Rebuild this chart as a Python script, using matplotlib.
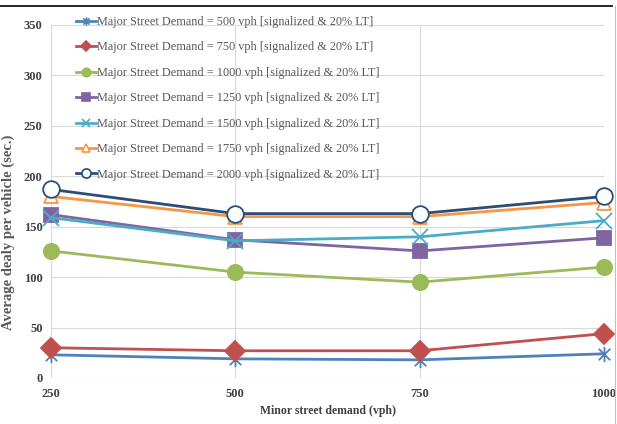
import numpy as np
import matplotlib

matplotlib.use("Agg")
import matplotlib.pyplot as plt
from matplotlib.path import Path
from matplotlib.lines import Line2D

# ── Data ─────────────────────────────────────────────────────────────────────

minor_demand = [250, 500, 750, 1000]
major_demand = [500, 750, 1000, 1250, 1500, 1750, 2000]

delay_500 = [23, 19, 18, 24]
delay_750 = [30, 27, 27, 44]
delay_1000 = [126, 105, 95, 110]
delay_1250 = [162, 137, 126, 139]
delay_1500 = [159, 136, 140, 156]
delay_1750 = [180, 160, 160, 174]
delay_2000 = [187, 163, 163, 180]

# ── Style ────────────────────────────────────────────────────────────────────

# Excel-style asterisk: vertical stroke plus two diagonals
star = Path(
    [(0, -1), (0, 1), (-0.75, -0.75), (0.75, 0.75), (-0.75, 0.75), (0.75, -0.75)],
    [Path.MOVETO, Path.LINETO] * 3,
)

series = [
    (delay_500, "#4F81BD", star, "#4F81BD"),
    (delay_750, "#C0504D", "D", "#C0504D"),
    (delay_1000, "#9BBB59", "o", "#9BBB59"),
    (delay_1250, "#8064A2", "s", "#8064A2"),
    (delay_1500, "#4BACC6", "x", "#4BACC6"),
    (delay_1750, "#F79646", "^", "white"),
    (delay_2000, "#2C4D75", "o", "white"),
]
marker_sizes = [11, 10, 11, 10, 11, 10, 12]

serif = "Liberation Serif"
text_col = "#595959"

fig = plt.figure(figsize=(6.17, 4.24), dpi=100)
ax = fig.add_axes([51 / 617, 46 / 424, 553 / 617, 353 / 424])

handles = []
for (vals, col, mk, face), ms, major in zip(series, marker_sizes, major_demand):
    ax.plot(
        minor_demand, vals, color=col, lw=2, marker=mk, markersize=ms,
        markerfacecolor=face, markeredgecolor=col, markeredgewidth=1.3,
        clip_on=False, zorder=3,
    )
    handles.append(
        Line2D([], [], color=col, lw=2, marker=mk, markersize=ms * 0.55,
               markerfacecolor=face, markeredgecolor=col, markeredgewidth=1.2,
               label=f"Major Street Demand = {major} vph [signalized & 20% LT]")
    )

ax.set_xlim(250, 1000)
ax.set_ylim(0, 350)
ax.set_xticks(minor_demand)
ax.set_yticks(np.arange(0, 351, 50))
ax.grid(True, color="#D9D9D9", lw=0.8)
ax.set_axisbelow(True)
for s in ax.spines.values():
    s.set_visible(False)
ax.tick_params(axis="y", length=0, labelsize=9, colors="#404040", pad=6)
ax.tick_params(axis="x", length=0, labelsize=9, colors="#404040", pad=7)
for lbl in ax.get_xticklabels() + ax.get_yticklabels():
    lbl.set_fontfamily(serif)
    lbl.set_fontweight("bold")

ax.set_xlabel("Minor street demand (vph)", fontfamily=serif, fontweight="bold",
              fontsize=8.5, color="#404040", labelpad=4)
ax.set_ylabel("Average dealy per vehicle (sec.)", fontfamily=serif,
              fontweight="bold", fontsize=10.5, color=text_col)
ax.yaxis.set_label_coords(-36 / 553, 0.414)

fig.legend(
    handles=handles, loc="upper left", bbox_to_anchor=(76 / 617, 1 - 16 / 424),
    frameon=False, prop={"family": serif, "size": 8.8}, labelcolor=text_col,
    handlelength=1.6, handletextpad=0.1, labelspacing=1.1,
    borderpad=0, borderaxespad=0,
)

# frame lines seen in the source image
fig.add_artist(Line2D([0, 612 / 617], [1 - 6 / 424] * 2, color="black", lw=1.2,
                      transform=fig.transFigure))
fig.add_artist(Line2D([615 / 617] * 2, [0, 1 - 6 / 424], color="#BFBFBF", lw=0.8,
                      transform=fig.transFigure))

fig.savefig("out.png", dpi=100)
plt.close(fig)
